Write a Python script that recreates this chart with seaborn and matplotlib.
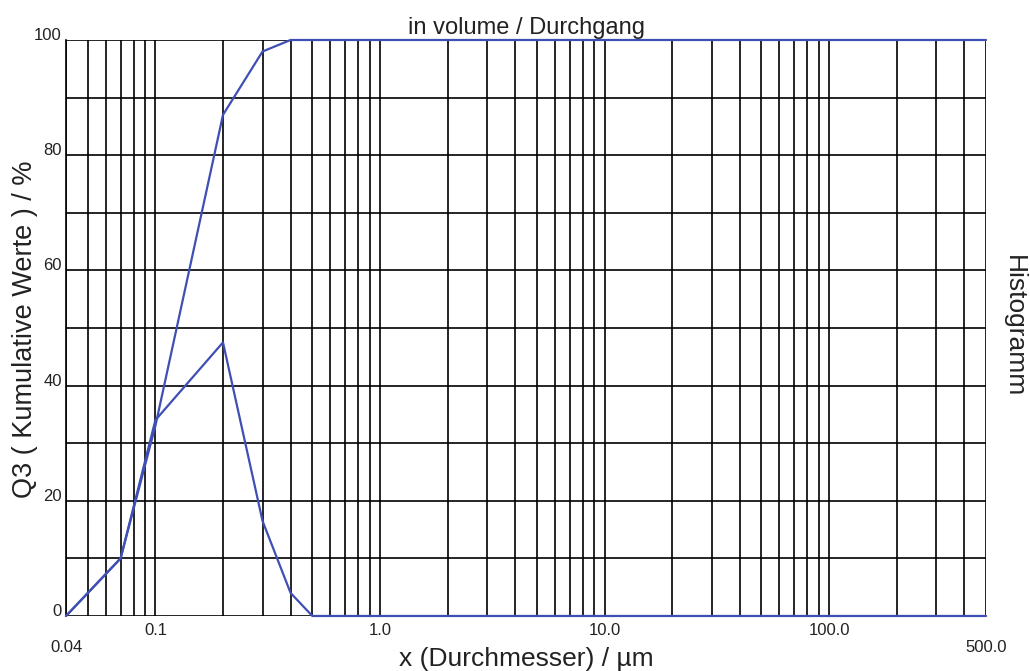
import matplotlib
matplotlib.use("Agg")
import matplotlib.pyplot as plt
import matplotlib.ticker as mticker
import numpy as np
import pandas as pd
import seaborn as sns

# Particle size classes (µm) and the measured distribution
diameter = [0.04, 0.07, 0.1, 0.2, 0.3, 0.4, 0.5, 500.0]
cumulative_q3 = [0.0, 10.0, 33.0, 87.0, 98.0, 100.0, 100.0, 100.0]
histogram = [0.0, 10.0, 34.0, 47.5, 16.5, 4.0, 0.0, 0.0]

x_tick_values = [0.04, 0.1, 1.0, 10.0, 100.0, 500.0]
x_tick_labels = ["0.04", "0.1", "1.0", "10.0", "100.0", "500.0"]
y_tick_values = [0, 20, 40, 60, 80, 100]

sns.set_theme(style="white")
plt.rcParams["font.family"] = ["Liberation Sans", "DejaVu Sans"]

line_color = "#3f4fb3"
text_color = "#222222"

fig = plt.figure(figsize=(10.30, 6.71), dpi=100)
ax = fig.add_axes([0.0641, 0.082, 0.8932, 0.8584])

df = pd.DataFrame({"x": diameter, "Q3": cumulative_q3, "q3": histogram})
sns.lineplot(data=df, x="x", y="Q3", ax=ax, color=line_color, lw=1.6,
             clip_on=False, zorder=5)
sns.lineplot(data=df, x="x", y="q3", ax=ax, color=line_color, lw=1.6,
             clip_on=False, zorder=5)

ax.set_xscale("log")
ax.set_xlim(0.04, 500)
ax.set_ylim(0, 100)

# Logarithmic grid: every 1..9 multiple per decade, plus the axis ends
grid_x = []
for dec in [0.01, 0.1, 1, 10, 100]:
    for m in range(1, 10):
        v = round(m * dec, 6)
        if 0.04 <= v <= 500:
            grid_x.append(v)
for v in grid_x:
    ax.axvline(v, color="black", lw=1.2, zorder=1)
for v in range(0, 101, 10):
    ax.axhline(v, color="black", lw=1.2, zorder=1)

ax.xaxis.set_major_locator(mticker.FixedLocator(x_tick_values))
ax.xaxis.set_major_formatter(mticker.FixedFormatter(x_tick_labels))
ax.xaxis.set_minor_locator(mticker.NullLocator())
ax.set_yticks(y_tick_values)
ax.tick_params(axis="both", length=0, labelsize=12, colors=text_color)
ax.tick_params(axis="x", pad=5)
ax.tick_params(axis="y", pad=3)
ticks = ax.xaxis.get_major_ticks()
ticks[0].set_pad(17)
ticks[-1].set_pad(17)
for lab in ax.get_yticklabels():
    lab.set_verticalalignment("baseline")

for side, sp in ax.spines.items():
    sp.set_visible(side == "left")
    sp.set_color("black")
    sp.set_linewidth(1.2)

ax.set_xlabel("x (Durchmesser) / µm", fontsize=19, color=text_color)
ax.xaxis.set_label_coords(0.5, -0.075)
ax.xaxis.label.set_verticalalignment("center")
ax.set_ylabel("Q3 ( Kumulative Werte ) / %", fontsize=19.5, color=text_color)
ax.yaxis.set_label_coords(-0.0446, 0.497)
ax.yaxis.label.set_verticalalignment("center")
ax.text(0.5, 1.021, "in volume / Durchgang", transform=ax.transAxes,
        fontsize=17, color=text_color, ha="center", va="center")
fig.text(0.984, 0.514, "Histogramm", rotation=-90, fontsize=19, color=text_color,
         ha="center", va="center")

fig.savefig("out.png", dpi=100, facecolor="white")
